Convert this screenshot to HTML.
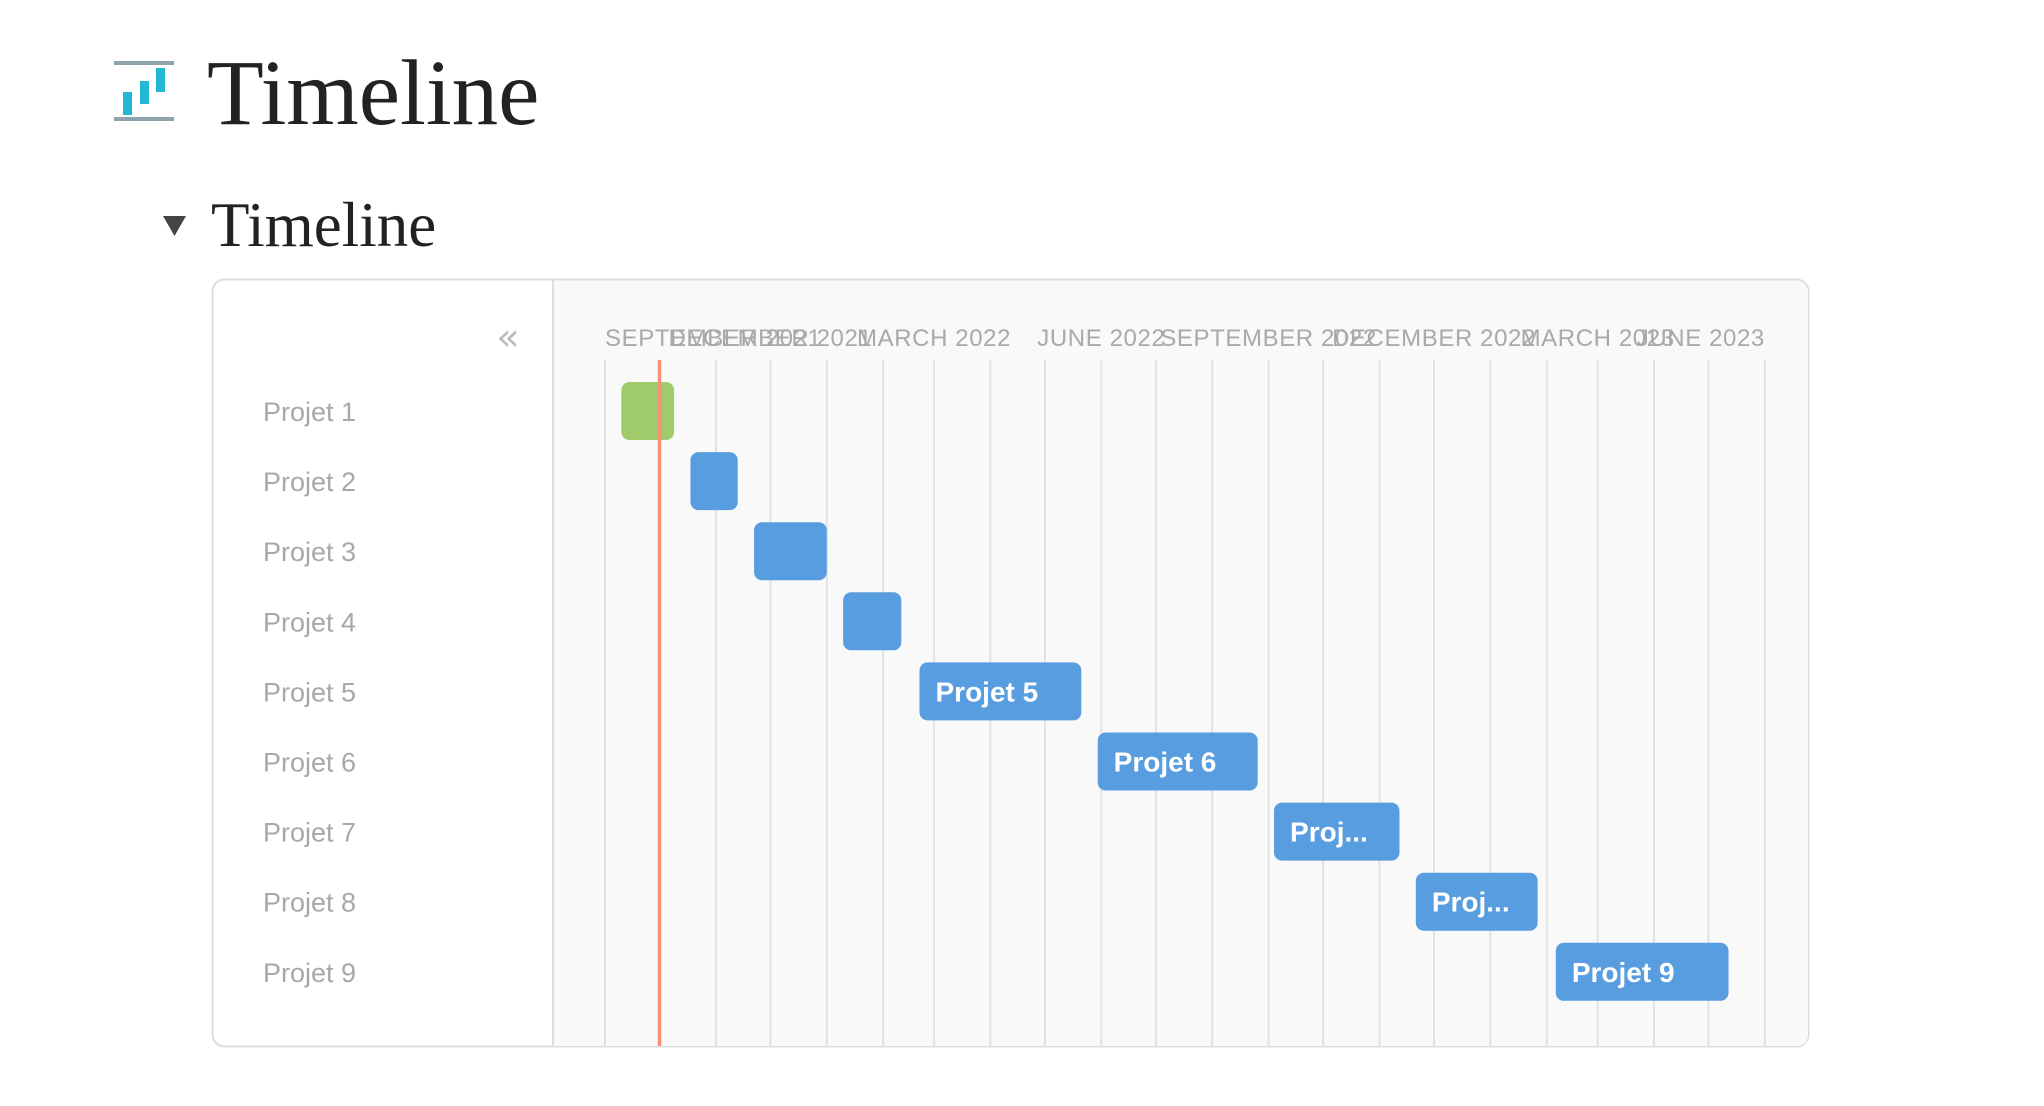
<!DOCTYPE html>
<html><head><meta charset="utf-8"><style>
html,body{margin:0;padding:0;background:#fff;width:2044px;height:1106px;overflow:hidden}
svg{display:block}
</style></head><body>
<svg id="chart" width="2044" height="1106" xmlns="http://www.w3.org/2000/svg">
  <g>
    <rect x="114" y="61" width="60" height="4" fill="#8fa3ad"/>
    <rect x="114" y="117" width="60" height="4" fill="#8fa3ad"/>
    <rect x="123" y="92" width="9" height="23" fill="#22b8d2"/>
    <rect x="140" y="81" width="9" height="23" fill="#22b8d2"/>
    <rect x="156" y="68" width="9" height="24" fill="#22b8d2"/>
  </g>
  <text x="207" y="124" font-family="Liberation Serif, serif" font-size="93" fill="#222">Timeline</text>
  <polygon points="163,216 186,216 174.5,236" fill="#444"/>
  <text x="211" y="246" font-family="Liberation Serif, serif" font-size="63" fill="#222">Timeline</text>
  <rect x="212.5" y="279.5" width="1596" height="767" rx="12" fill="#fff" stroke="#ddd" stroke-width="2"/>
  <path d="M553,281 H1797 a11,11 0 0 1 11,11 V1035 a11,11 0 0 1 -11,11 H553 Z" fill="#f9f9f9"/>
  <line x1="553" y1="280" x2="553" y2="1046" stroke="#ddd" stroke-width="2"/>
  <text x="508" y="350" font-family="DejaVu Sans, sans-serif" font-size="38" fill="#bbb" text-anchor="middle">«</text>
  <g id="grid"></g>
  <g id="headers"></g>
  <g id="labels"></g>
  <g id="bars"></g>
  <g id="today"></g>
</svg>
<script>
const projects = ["Projet 1","Projet 2","Projet 3","Projet 4","Projet 5","Projet 6","Projet 7","Projet 8","Projet 9"];
const startDates = ["2021-09-10","2021-10-18","2021-11-22","2022-01-10","2022-02-21","2022-05-30","2022-09-04","2022-11-21","2023-02-06"];
const endDates = ["2021-10-09","2021-11-13","2022-01-01","2022-02-11","2022-05-21","2022-08-26","2022-11-12","2023-01-27","2023-05-12"];
const barColors = ["green","blue","blue","blue","blue","blue","blue","blue","blue"];
const monthTicks = ["2021-09-01","2021-10-01","2021-11-01","2021-12-01","2022-01-01","2022-02-01","2022-03-01","2022-04-01","2022-05-01","2022-06-01","2022-07-01","2022-08-01","2022-09-01","2022-10-01","2022-11-01","2022-12-01","2023-01-01","2023-02-01","2023-03-01","2023-04-01","2023-05-01","2023-06-01"];
const headerDates = ["2021-09-01","2021-12-01","2022-03-01","2022-06-01","2022-09-01","2022-12-01","2023-03-01","2023-06-01"];
const headerLabels = ["SEPTEMBER 2021","DECEMBER 2021","MARCH 2022","JUNE 2022","SEPTEMBER 2022","DECEMBER 2022","MARCH 2023","JUNE 2023"];
const todayDate = "2021-10-01";

const NS="http://www.w3.org/2000/svg";
const X0=605, PXDAY=1.818, ORIGIN=Date.UTC(2021,8,1);
function xScale(d){const p=d.split("-").map(Number);return X0+(Date.UTC(p[0],p[1]-1,p[2])-ORIGIN)/86400000*PXDAY;}
function yScale(i){return 411+i*70.1;}
function mk(tag,attrs,parent){const e=document.createElementNS(NS,tag);for(const k in attrs)e.setAttribute(k,attrs[k]);document.getElementById(parent).appendChild(e);return e;}
const xEnd=xScale(monthTicks[monthTicks.length-1]);

monthTicks.forEach(d=>{
  const x=xScale(d);
  const l=mk("line",{x1:x,x2:x,y1:360,y2:1046,stroke:"#e2e2e2","stroke-width":2},"grid");
  
  
});
headerLabels.forEach((t,i)=>{
  const x=xScale(headerDates[i]);
  const tx=mk("text",{x:x,y:346,"font-family":"Liberation Sans, sans-serif","font-size":24,fill:"#a9a9a9","letter-spacing":"0.6"},"headers");
  tx.textContent=t;
  
  
  const w=tx.getComputedTextLength();
  let left=x-w/2;
  if(left<X0)left=X0;
  if(left+w>xEnd)left=xEnd-w;
  tx.setAttribute("x",left);
});
projects.forEach((p,i)=>{
  const y=yScale(i);
  const lb=mk("text",{x:263,y:y+10,"font-family":"Liberation Sans, sans-serif","font-size":27,fill:"#a8a8a8"},"labels");
  lb.textContent=p;
  
  
  const x1=xScale(startDates[i]),x2=xScale(endDates[i]);
  const w=x2-x1;
  const r=mk("rect",{x:x1,y:y-29,width:w,height:58,rx:8,fill:barColors[i]==="green"?"#9fcb6b":"#589de0"},"bars");
  
  
  if(w>100){
    const t=mk("text",{x:x1+16,y:y+10,"font-family":"Liberation Sans, sans-serif","font-size":28,"font-weight":"bold",fill:"#fff"},"bars");
    t.textContent = w>150 ? p : p.slice(0,4)+"...";
    
    
  }
});
const tx=xScale(todayDate);
const tl=mk("line",{x1:tx,x2:tx,y1:360,y2:1046,stroke:"#f79177","stroke-width":3.5},"today");


</script>
</body></html>
